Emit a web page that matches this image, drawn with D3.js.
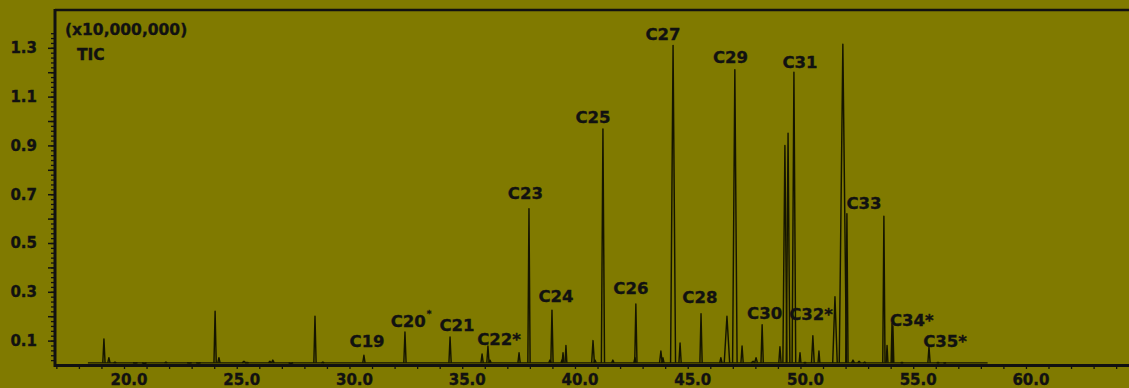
<!DOCTYPE html>
<html>
<head>
<meta charset="utf-8">
<script src="https://cdn.jsdelivr.net/npm/d3@7/dist/d3.min.js"></script>
<style>
  html, body { margin: 0; padding: 0; background: #807a00; }
  svg { display: block; }
  text { font-family: "DejaVu Sans", Verdana, sans-serif; font-weight: bold; fill: #111; stroke: #111; stroke-width: 0.35px; }
</style>
</head>
<body>
<div id="chart"></div>
<script>
// retention time (min), intensity (x10,000,000) and half base width (min) of each peak
const peakRt = [19.11, 19.33, 19.6, 20.5, 20.9, 21.86, 22.9, 23.3, 24.04, 24.21, 25.32, 25.45, 26.47, 26.6, 27.4,
  28.47, 28.82, 30.64, 32.46, 34.46, 35.88, 36.14, 36.23, 37.52, 37.96, 38.89, 38.98, 39.42, 39.47, 39.6,
  40.8, 40.89, 41.24, 41.68, 42.66, 42.7, 43.81, 43.9, 44.35, 44.66, 45.59, 46.47, 46.74, 47.09, 47.41,
  47.9, 48.03, 48.3, 49.09, 49.31, 49.45, 49.71, 49.98, 50.2, 50.55, 50.82, 51.53, 51.88, 52.06, 52.33,
  52.6, 52.85, 53.7, 53.84, 54.06, 54.1, 54.5, 55.7, 56.1, 56.4];
const peakHeight = [0.107, 0.03, 0.012, 0.008, 0.006, 0.012, 0.008, 0.008, 0.22, 0.03, 0.015, 0.01, 0.015, 0.02, 0.006,
  0.20, 0.012, 0.04, 0.135, 0.115, 0.045, 0.078, 0.02, 0.05, 0.64, 0.02, 0.225, 0.02, 0.05, 0.08,
  0.10, 0.02, 0.967, 0.02, 0.03, 0.25, 0.057, 0.03, 1.31, 0.09, 0.21, 0.03, 0.20, 1.21, 0.078,
  0.015, 0.03, 0.165, 0.075, 0.90, 0.95, 1.20, 0.05, 0.01, 0.12, 0.057, 0.28, 1.315, 0.62, 0.02,
  0.015, 0.012, 0.61, 0.08, 0.17, 0.16, 0.01, 0.075, 0.01, 0.008];
const peakWidth = [0.05, 0.05, 0.06, 0.1, 0.1, 0.06, 0.1, 0.1, 0.05, 0.05, 0.08, 0.08, 0.06, 0.06, 0.1,
  0.05, 0.06, 0.05, 0.05, 0.05, 0.05, 0.05, 0.05, 0.05, 0.05, 0.05, 0.05, 0.04, 0.04, 0.04,
  0.06, 0.05, 0.07, 0.05, 0.05, 0.05, 0.06, 0.05, 0.11, 0.05, 0.05, 0.05, 0.12, 0.1, 0.05,
  0.08, 0.06, 0.05, 0.05, 0.09, 0.08, 0.08, 0.04, 0.06, 0.06, 0.04, 0.1, 0.16, 0.05, 0.06,
  0.06, 0.06, 0.05, 0.04, 0.04, 0.04, 0.06, 0.05, 0.06, 0.06];

const traceStart = 18.4, traceEnd = 58.3, baseLevel = 0.009;

// peak labels, placed in data units (rt, intensity of the text baseline)
const labelText = ["C19", "C20", "C21", "C22*", "C23", "C24", "C25", "C26", "C27", "C28", "C29", "C30", "C31", "C32*", "C33", "C34*", "C35*"];
const labelRt = [30.78, 32.73, 34.77, 36.63, 37.80, 39.16, 40.80, 42.48, 43.90, 45.54, 46.90, 48.41, 49.98, 50.47, 52.82, 54.94, 56.41];
const labelLevel = [0.074, 0.156, 0.139, 0.082, 0.680, 0.258, 0.992, 0.291, 1.332, 0.254, 1.238, 0.189, 1.217, 0.184, 0.639, 0.160, 0.074];

const xLabels = [20, 25, 30, 35, 40, 45, 50, 55, 60];
const yLabels = [0.1, 0.3, 0.5, 0.7, 0.9, 1.1, 1.3];

const width = 1129, height = 388;

const svg = d3.select("#chart").append("svg")
  .attr("width", width)
  .attr("height", height);

const x = d3.scaleLinear().domain([16.94, 64.57]).range([55, 1129]);
const y = d3.scaleLinear().domain([0, 1.455]).range([365, 10]);

// y axis: minor ticks every 0.02, longer ticks every 0.1, labels on odd tenths
svg.append("g")
  .attr("transform", "translate(55,0)")
  .call(d3.axisLeft(y).tickValues(d3.range(1, 69).map(i => i * 0.02)).tickSize(4).tickFormat(""))
  .call(g => g.select(".domain").remove())
  .call(g => g.selectAll("line").attr("stroke", "#111").attr("stroke-width", 1.3));

svg.append("g")
  .attr("transform", "translate(55,0)")
  .call(d3.axisLeft(y).tickValues(d3.range(1, 14).map(i => i * 0.1)).tickSize(7).tickPadding(11)
    .tickFormat(d => yLabels.some(v => Math.abs(v - d) < 1e-6) ? d3.format(".1f")(d) : ""))
  .call(g => g.select(".domain").remove())
  .call(g => g.selectAll("line").attr("stroke", "#111").attr("stroke-width", 1.5))
  .call(g => g.selectAll("text").attr("font-size", 15).style("font-family", null));

// x axis: a tick every minute
svg.append("g")
  .attr("transform", "translate(0,365)")
  .call(d3.axisBottom(x).tickValues(d3.range(17, 65)).tickSize(4).tickFormat(""))
  .call(g => g.select(".domain").remove())
  .call(g => g.selectAll("line").attr("stroke", "#111").attr("stroke-width", 1.3));

svg.append("g").selectAll("text")
  .data(xLabels)
  .join("text")
  .attr("x", d => x(d) + 5)
  .attr("y", 385)
  .attr("text-anchor", "middle")
  .attr("font-size", 15)
  .text(d => d3.format(".1f")(d));

// frame
svg.append("line").attr("x1", 55).attr("x2", width).attr("y1", 10).attr("y2", 10)
  .attr("stroke", "#111").attr("stroke-width", 2.5);
svg.append("line").attr("x1", 55).attr("x2", width).attr("y1", 365.5).attr("y2", 365.5)
  .attr("stroke", "#111").attr("stroke-width", 3);
svg.append("line").attr("x1", 55).attr("x2", 55).attr("y1", 9).attr("y2", 367)
  .attr("stroke", "#111").attr("stroke-width", 3);

// baseline of the trace
const line = d3.line().x(d => x(d[0])).y(d => y(d[1]));
svg.append("path")
  .attr("d", line([[traceStart, baseLevel], [traceEnd, baseLevel]]))
  .attr("fill", "none")
  .attr("stroke", "#151500")
  .attr("stroke-width", 1.3);

// peaks
const peaks = peakRt.map((rt, i) => ({ rt, h: peakHeight[i], w: peakWidth[i] }));
svg.append("g").selectAll("path")
  .data(peaks)
  .join("path")
  .attr("d", d => line([[d.rt - d.w, baseLevel], [d.rt, d.h], [d.rt + d.w, baseLevel]]))
  .attr("fill", "none")
  .attr("stroke", "#151500")
  .attr("stroke-width", 1.45)
  .attr("stroke-linejoin", "round");

// peak labels
const labels = svg.append("g").selectAll("text")
  .data(labelText.map((t, i) => ({ t, rt: labelRt[i], v: labelLevel[i] })))
  .join("text")
  .attr("x", d => x(d.rt))
  .attr("y", d => y(d.v))
  .attr("text-anchor", "middle")
  .attr("font-size", 16.5);

labels.each(function(d) {
  const el = d3.select(this);
  if (d.t === "C20") {
    el.append("tspan").text("C20");
    el.append("tspan").attr("font-size", 9).attr("dx", 1).attr("dy", -10).text("*");
  } else {
    el.text(d.t);
  }
});

// header text
svg.append("text").attr("x", 65).attr("y", 35).attr("font-size", 15.5).text("(x10,000,000)");
svg.append("text").attr("x", 77).attr("y", 60).attr("font-size", 15.5).text("TIC");
</script>
</body>
</html>
